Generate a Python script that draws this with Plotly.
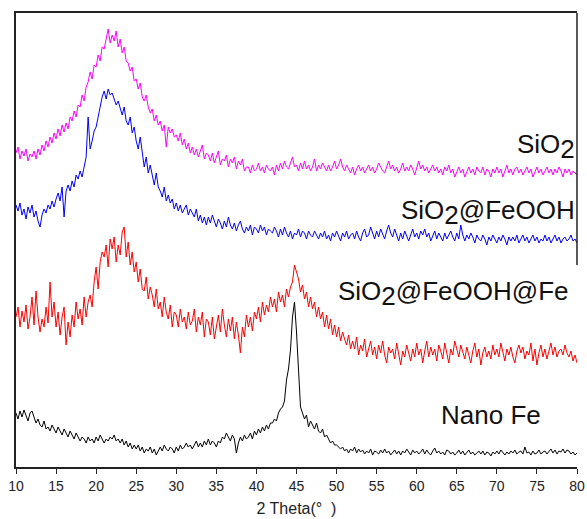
import numpy as np
import plotly.graph_objects as go

two_theta = np.round(np.arange(10, 80.001, 0.25), 2)

sio2 = [
314,320,308,316, 311,318,306,313, 310,316,308,318, 312,322,316,326, 320,330,324,334,
328,338,331,342, 335,344,338,350, 346,356,350,362, 360,372,366,380, 385,395,388,402,
400,412,406,420, 418,430,438,424, 432,426,436,420, 428,414,420,406, 404,396,400,386,
388,378,384,370, 366,372,360,354, 358,346,352,342, 346,336,342,320, 340,334,338,330,
332,326,334,322, 328,318,324,314, 320,312,318,310, 316,322,308,314, 312,306,314,304,
310,316,302,308, 306,312,300,308, 304,310,298,306, 302,308,296,300, 300,294,302,296,
298,304,296,300, 294,302,298,296, 300,292,302,296, 304,298,306,300, 298,304,310,300,
302,296,304,298, 306,298,302,296, 300,308,296,302, 298,304,300,296, 302,296,300,306,
298,302,308,300, 296,302,298,294, 300,292,298,302, 296,300,294,298, 302,296,300,294,
298,304,300,296, 294,300,306,298, 302,296,300,294, 298,304,296,300, 296,302,298,292,
300,306,298,302, 296,300,294,298, 302,296,300,294, 298,292,300,296, 302,294,298,290,
296,300,294,298, 290,296,300,294, 298,292,300,296, 294,300,292,298, 296,290,298,294,
300,294,298,290, 296,302,294,298, 292,298,300,294, 298,292,296,300, 294,298,290,296,
300,294,298,292, 296,300,294,298, 292,298,294,300, 296,290,298,294, 298,292,296,294,
292]

sio2_feooh = [
262,256,264,252, 258,248,260,254, 262,250,256,246, 240,252,258,254, 262,258,266,260,
268,274,266,280, 250,276,282,276, 286,280,292,288, 296,290,300,310, 350,318,326,336,
340,350,362,370, 376,368,378,372, 374,368,362,366, 358,352,360,346, 342,350,334,340,
326,318,330,312, 300,310,294,302, 290,282,294,280, 276,270,280,266, 272,264,268,258,
264,256,262,254, 258,262,252,258, 254,250,258,246, 252,244,250,242, 250,244,252,246,
240,248,244,238, 246,240,250,242, 238,244,236,242, 246,238,234,240, 236,242,232,240,
238,234,242,236, 240,232,238,236, 234,240,236,230, 238,232,240,234, 230,236,228,234,
232,238,230,236, 234,228,236,232, 230,236,232,228, 234,230,236,228, 232,226,234,230,
236,230,226,234, 230,236,228,232, 234,228,236,230, 226,234,238,230, 232,240,234,228,
236,230,238,232, 228,236,242,234, 230,238,232,226, 234,228,236,230, 226,232,238,230,
234,228,236,232, 238,230,234,226, 232,236,228,234, 230,226,234,228, 232,236,230,226,
234,228,242,232, 226,232,228,234, 230,224,232,228, 226,232,228,222, 230,226,232,228,
224,230,226,232, 228,222,230,226, 230,226,232,224, 228,232,226,230, 224,228,232,226,
230,224,228,226, 232,226,230,224, 228,232,226,230, 224,228,230,226, 228,232,226,228,
224]

sio2_feooh_fe = [
150,160,140,156, 145,162,138,150, 170,142,176,150, 135,148,140,160, 144,185,150,165,
140,155,132,150, 160,122,145,130, 152,140,165,148, 158,142,170,150, 165,172,160,185,
200,178,205,215, 210,222,200,228, 218,230,205,222, 212,235,240,210, 225,202,215,195,
205,185,198,178, 176,190,168,180, 172,160,178,158, 165,150,170,155, 148,162,140,155,
152,140,158,145, 150,138,155,142, 146,158,135,150, 142,155,130,148, 145,132,150,128,
140,152,135,158, 142,130,148,136, 150,128,145,132, 114,140,130,152, 140,150,136,155,
148,160,145,165, 152,162,155,170, 160,168,155,175, 165,172,160,178, 170,180,185,202,
195,188,175,182, 168,175,160,170, 158,165,150,160, 148,155,140,152, 138,148,132,142,
130,140,126,135, 128,122,132,118, 126,118,130,112, 122,116,128,110, 118,126,112,120,
108,122,114,126, 112,104,120,114, 118,108,124,112, 102,116,110,122, 114,106,118,110,
124,112,118,104, 116,126,110,120, 112,118,106,122, 116,108,124,112, 104,118,112,126,
118,110,122,114, 108,120,112,104, 116,124,110,118, 102,114,120,110, 116,108,122,112,
118,110,124,114, 106,118,112,120, 110,104,116,122, 114,120,108,116, 112,124,106,118,
102,114,122,110, 118,108,116,124, 112,120,110,116, 118,112,122,114, 110,116,106,112,
104]

nano_fe = [
54,48,56,50, 57,52,46,54, 56,50,44,48, 42,40,46,38, 40,36,42,38,
34,40,36,32, 38,34,30,36, 32,28,34,30, 26,30,28,24, 30,26,28,24,
30,26,32,28, 24,28,26,30, 28,32,26,28, 24,28,22,26, 20,24,18,22,
18,22,16,20, 14,18,16,20, 14,18,12,16, 20,16,22,18, 16,20,18,14,
20,16,22,18, 20,24,20,22, 18,22,26,20, 24,20,26,22, 28,22,26,24,
20,26,24,30, 28,34,30,26, 32,28,14,24, 30,26,32,28, 30,34,28,36,
32,38,34,40, 36,42,38,44, 44,48,46,54, 58,60,66,87, 98,117,150,165,
135,90,60,54, 48,52,40,46, 42,38,44,36, 34,38,30,32, 28,24,26,22,
22,20,18,20, 16,18,14,18, 16,20,14,18, 15,17,13,16, 14,18,12,16,
15,13,17,14, 18,14,16,12, 14,17,13,16, 12,16,14,18, 15,12,17,14,
16,13,15,18, 13,17,14,12, 16,19,14,16, 13,15,12,17, 16,13,15,12,
14,17,13,16, 12,15,17,13, 15,12,14,16, 13,16,12,15, 14,11,15,13,
16,13,17,14, 12,15,13,16, 14,17,13,15, 16,13,20,14, 15,12,16,13,
14,17,13,15, 16,13,15,18, 14,17,13,16, 15,18,14,17, 16,13,15,12,
14]

series = [
    ("SiO2", sio2, "#ff00ff"),
    ("SiO2@FeOOH", sio2_feooh, "#0000ff"),
    ("SiO2@FeOOH@Fe", sio2_feooh_fe, "#ff0000"),
    ("Nano Fe", nano_fe, "#000000"),
]

x_ticks = list(range(10, 81, 5))

fig = go.Figure()
for name, vals, col in series:
    fig.add_trace(go.Scatter(x=two_theta, y=vals, mode="lines", name=name,
                             line=dict(color=col, width=1)))

font_family = "Liberation Sans, Arial, sans-serif"
lab_size = 26
sub2 = '<sub><span style="font-size:26px">2</span></sub>'

labels = [
    ("SiO" + sub2, 80.0, 321, "right"),
    ("SiO" + sub2 + "@FeOOH", 80.0, 255, "right"),
    ("SiO" + sub2 + "@FeOOH@Fe", 79.2, 174, "right"),
    ("Nano Fe", 69.3, 52, "center"),
]
for txt, xx, yy, anc in labels:
    fig.add_annotation(x=xx, y=yy, xref="x", yref="y", text=txt, showarrow=False,
                       xanchor=anc, yanchor="middle",
                       font=dict(size=lab_size, color="#111111", family=font_family))

# partial right frame line
fig.add_shape(type="line", xref="paper", yref="paper", x0=1, x1=1, y0=1, y1=0.445,
              line=dict(color="#222222", width=1.5))

fig.update_layout(
    width=587, height=519,
    margin=dict(l=16, r=10, t=13, b=52, autoexpand=False),
    paper_bgcolor="white", plot_bgcolor="white",
    showlegend=False,
    font=dict(family=font_family, color="#222222"),
    xaxis=dict(range=[10, 80], tickvals=x_ticks, ticktext=[str(v) for v in x_ticks],
               ticks="outside", ticklen=5, tickwidth=1, tickcolor="#222222",
               showline=True, mirror=True, linecolor="#222222", linewidth=1.5,
               showgrid=False, zeroline=False, automargin=False,
               tickfont=dict(size=14, color="#222222"),
               title=dict(text="2 Theta(°  )", font=dict(size=16, color="#222222"),
                          standoff=10)),
    yaxis=dict(range=[0, 454], showticklabels=False, ticks="", showline=True,
               automargin=False,
               linecolor="#222222", linewidth=1.5, showgrid=False, zeroline=False),
)

fig.write_html("out.html")
